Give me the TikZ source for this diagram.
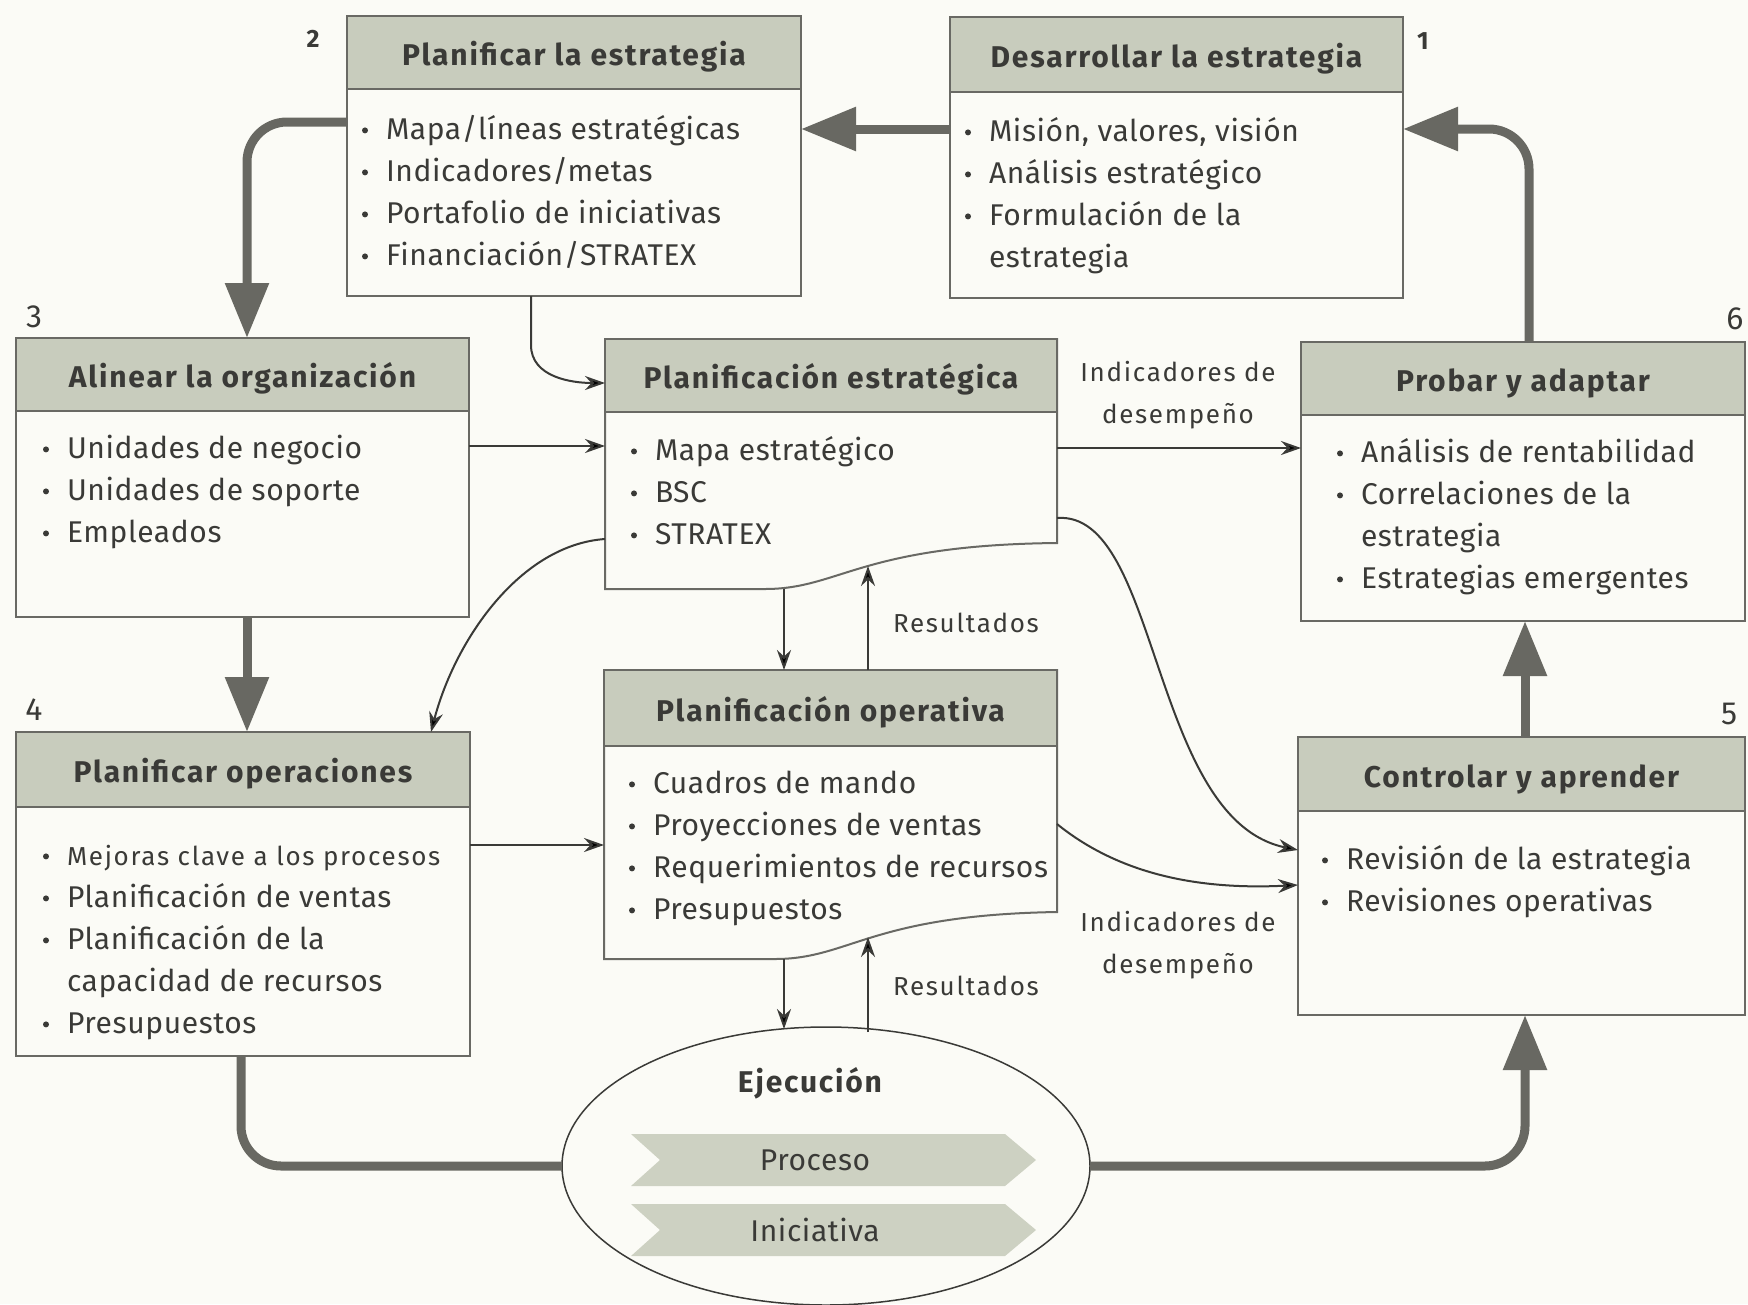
\documentclass[tikz,border=0pt]{standalone}
\usepackage{fontspec}
\setmainfont{Fira Sans}
\usetikzlibrary{arrows.meta,shapes.geometric}
\definecolor{bg}{RGB}{251,251,246}
\definecolor{hdrc}{RGB}{200,204,189}
\definecolor{ribc}{RGB}{205,209,194}
\definecolor{ink}{RGB}{58,58,55}
\definecolor{thk}{RGB}{104,104,98}
\definecolor{edgec}{RGB}{105,105,100}
\newcommand\bodyfont{\fontsize{30}{42}\selectfont\addfontfeatures{LetterSpace=2}}
\newcommand\hdfont{\fontsize{30}{36}\selectfont\bfseries\addfontfeatures{LetterSpace=6}}
\newcommand\lblfont{\fontsize{26}{42}\selectfont\addfontfeatures{LetterSpace=6.5}}
\newcommand\smallfont{\fontsize{26}{42}\selectfont\addfontfeatures{LetterSpace=6.5}}
\newcommand\bl{\makebox[24pt][l]{\tikz[baseline=-9pt]\fill[ink] (3pt,0) circle (3pt);}}
\newcommand\ind{\hspace*{24pt}}
\begin{document}
\begin{tikzpicture}[x=1pt,y=-1pt,
  every node/.style={text=ink, outer sep=0pt},
  box/.style={draw=edgec, line width=2pt, anchor=north west, inner sep=0pt},
  hdr/.style={draw=edgec, line width=2pt, fill=hdrc, anchor=north west, inner sep=0pt, font=\hdfont, text height=26pt, text depth=0pt},
  body/.style={anchor=north west, inner sep=0pt, align=left, font=\bodyfont},
  big/.style={line width=9pt, draw=thk, -{Triangle[length=55pt,width=42pt]}, rounded corners=40pt},
  bigl/.style={line width=9pt, draw=thk, rounded corners=40pt},
  thin/.style={line width=2pt, draw=ink, -{Stealth[length=20pt,width=14pt]}},
  lbl/.style={font=\lblfont, inner sep=0pt, align=center},
  num/.style={font=\fontsize{32}{32}\selectfont, inner sep=0pt},
  numb/.style={font=\fontsize{25}{25}\selectfont\bfseries, inner sep=0pt},
  rib/.style={fill=ribc, draw=none}
]
\useasboundingbox (0,0) rectangle (1748,1304);
\fill[bg] (0,0) rectangle (1748,1304);

% Box 2
\node[box, minimum width=454pt, minimum height=280pt] (b2) at (347,16) {};
\node[hdr, minimum width=454pt, minimum height=73pt] (b2h) at (347,16) {Planificar la estrategia};
\node[body] (b2t) at (362,110) {\strut\bl Mapa/líneas estratégicas\\\bl Indicadores/metas\\\bl Portafolio de iniciativas\\\bl Financiación/STRATEX};
\node[numb] (n2) at (313,39) {2};

% Box 1
\node[box, minimum width=453pt, minimum height=281pt] (b1) at (950,17) {};
\node[hdr, minimum width=453pt, minimum height=75pt] (b1h) at (950,17) {Desarrollar la estrategia};
\node[body] (b1t) at (965,112) {\strut\bl Misión, valores, visión\\\bl Análisis estratégico\\\bl Formulación de la\\\ind estrategia};
\node[numb] (n1) at (1423,41) {1};

% Box 3
\node[box, minimum width=453pt, minimum height=279pt] (b3) at (16,338) {};
\node[hdr, minimum width=453pt, minimum height=73pt] (b3h) at (16,338) {Alinear la organización};
\node[body] (b3t) at (43,429) {\strut\bl Unidades de negocio\\\bl Unidades de soporte\\\bl Empleados};
\node[num] (n3) at (34,317) {3};

% Planificacion estrategica
\node[anchor=north west, inner sep=0pt, minimum width=452pt, minimum height=250pt] (pe) at (605,339) {};
\draw[edgec, line width=2pt] (pe.north west) -- (pe.north east) -- (1057,543)
  .. controls (860,545) and (840,589) .. (765,589) -- (pe.south west) -- cycle;
\node[hdr, minimum width=452pt, minimum height=73pt] (peh) at (605,339) {Planificación estratégica};
\node[body] (pet) at (631,431) {\strut\bl Mapa estratégico\\\bl BSC\\\bl STRATEX};

% Box 6
\node[box, minimum width=444pt, minimum height=279pt] (b6) at (1301,342) {};
\node[hdr, minimum width=444pt, minimum height=73pt] (b6h) at (1301,342) {Probar y adaptar};
\node[body] (b6t) at (1337,433) {\strut\bl Análisis de rentabilidad\\\bl Correlaciones de la\\\ind estrategia\\\bl Estrategias emergentes};
\node[num] (n6) at (1735,319) {6};

% Box 4
\node[box, minimum width=454pt, minimum height=324pt] (b4) at (16,732) {};
\node[hdr, minimum width=454pt, minimum height=75pt] (b4h) at (16,732) {Planificar operaciones};
\node[body] (b4t) at (43,836) {\strut\bl {\smallfont Mejoras clave a los procesos}\\\bl Planificación de ventas\\\bl Planificación de la\\\ind capacidad de recursos\\\bl Presupuestos};
\node[num] (n4) at (34,710) {4};

% Planificacion operativa
\node[anchor=north west, inner sep=0pt, minimum width=453pt, minimum height=289pt] (po) at (604,670) {};
\draw[edgec, line width=2pt] (po.north west) -- (po.north east) -- (1057,912)
  .. controls (870,915) and (850,959) .. (775,959) -- (po.south west) -- cycle;
\node[hdr, minimum width=453pt, minimum height=76pt] (poh) at (604,670) {Planificación operativa};
\node[body] (pot) at (629,764) {\strut\bl Cuadros de mando\\\bl Proyecciones de ventas\\\bl Requerimientos de recursos\\\bl Presupuestos};

% Box 5
\node[box, minimum width=447pt, minimum height=278pt] (b5) at (1298,737) {};
\node[hdr, minimum width=447pt, minimum height=74pt] (b5h) at (1298,737) {Controlar y aprender};
\node[body] (b5t) at (1322,840) {\strut\bl Revisión de la estrategia\\\bl Revisiones operativas};
\node[num] (n5) at (1729,714) {5};

% Ejecucion
\node[draw=ink, line width=1.5pt, ellipse, minimum width=528pt, minimum height=278pt, inner sep=0pt] (ej) at (826,1166) {};
\node[anchor=base, inner sep=0pt, font=\hdfont] (ejt) at (810,1092) {Ejecución};
\fill[rib] (631,1134) -- (1005,1134) -- (1036,1160) -- (1005,1186) -- (631,1186) -- (660,1160) -- cycle;
\fill[rib] (631,1204) -- (1005,1204) -- (1036,1230) -- (1005,1256) -- (631,1256) -- (660,1230) -- cycle;
\node[font=\bodyfont, inner sep=0pt] (pr) at (815,1160) {Proceso};
\node[font=\bodyfont, inner sep=0pt] (in) at (815,1230) {Iniciativa};

% coordinates on curved edges
\coordinate (peb) at (868,566);
\coordinate (pob) at (868,937);
\coordinate (ejj) at (784,1029);
\coordinate (ejk) at (868,1032);

% thick arrows
\draw[big] (b1.west |- 0,129) -- (b2.east |- 0,129);
\draw[big] (b2.west |- 0,122) -- (247,122) -- (b3.north -| 247,0);
\draw[big] (b3.south -| 247,0) -- (b4.north -| 247,0);
\draw[bigl] (b4.south -| 241,0) -- (241,1166) -- (ej.west);
\draw[big] (ej.east) -- (1525,1166) -- (b5.south -| 1525,0);
\draw[big] (b5.north -| 1525,0) -- (b6.south -| 1525,0);
\draw[big] (b6.north -| 1529,0) -- (1529,129) -- (b1.east |- 0,129);

% thin arrows
\draw[thin] (b2.south -| 531,0) -- (531,345) to[out=-90,in=180] (pe.west |- 0,383);
\draw[thin] (b3.east |- 0,446) -- (pe.west |- 0,446);
\draw[thin] (pe.west |- 0,539) .. controls (520,545) and (455,640) .. (b4.north -| 431,0);
\draw[thin] (pe.east |- 0,448) -- (b6.west |- 0,448);
\draw[thin] (pe.east |- 0,518) .. controls (1160,510) and (1150,820) .. (b5.west |- 0,850);
\draw[thin] (po.east |- 0,824) .. controls (1120,875) and (1200,890) .. (b5.west |- 0,885);
\draw[thin] (pe.south -| 784,0) -- (po.north -| 784,0);
\draw[thin] (po.north -| 868,0) -- (peb);
\draw[thin] (b4.east |- 0,845) -- (po.west |- 0,845);
\draw[thin] (po.south -| 784,0) -- (ejj);
\draw[thin] (ejk) -- (pob);

% labels
\node[lbl] (l1) at (1178,394) {\strut Indicadores de\\\strut desempeño};
\node[lbl] (l2) at (1178,944) {\strut Indicadores de\\\strut desempeño};
\node[lbl, anchor=base west] (r1) at (893,632) {Resultados};
\node[lbl, anchor=base west] (r2) at (893,995) {Resultados};
\end{tikzpicture}
\end{document}
